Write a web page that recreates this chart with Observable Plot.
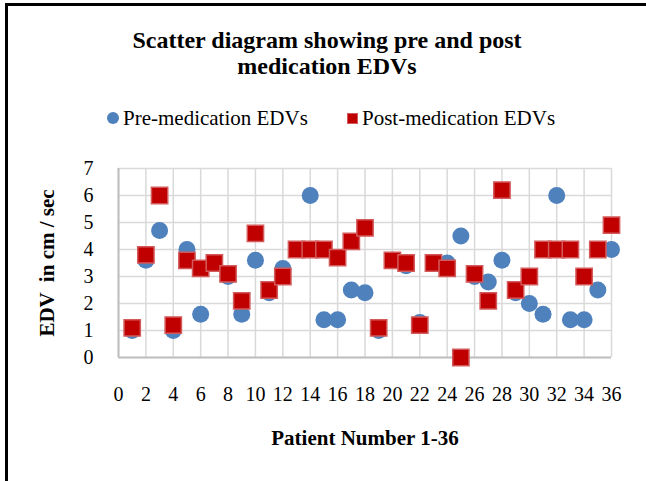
<!DOCTYPE html>
<html>
<head>
<meta charset="utf-8">
<script src="https://cdn.jsdelivr.net/npm/d3@7"></script>
<script src="https://cdn.jsdelivr.net/npm/@observablehq/plot@0.6"></script>
<style>
  html, body { margin: 0; padding: 0; background: #fff; }
  #wrap { position: relative; width: 646px; height: 481px; overflow: hidden; font-family: "Liberation Serif", "Times New Roman", serif; color: #000; }
  #frameTop { position: absolute; left: 5px; top: 3px; width: 641px; height: 2.5px; background: #000; }
  #frameLeft { position: absolute; left: 5px; top: 3px; width: 3px; height: 478px; background: #000; }
  #title { position: absolute; left: 8px; width: 638px; top: 27px; text-align: center; font-weight: bold; font-size: 24px; line-height: 26px; }
  .leg { position: absolute; top: 106px; font-size: 21px; line-height: 24px; white-space: nowrap; }
  #chart { position: absolute; left: 0; top: 0; }
  #chart svg text { font-family: "Liberation Serif", "Times New Roman", serif; }
</style>
</head>
<body>
<div id="wrap">
  <div id="chart"></div>
  <div id="title">Scatter diagram showing pre and post<br>medication EDVs</div>
  <div id="legend"></div>
  <div id="frameTop"></div>
  <div id="frameLeft"></div>
</div>
<script>
const patients = [1,2,3,4,5,6,7,8,9,10,11,12,13,14,15,16,17,18,19,20,21,22,23,24,25,26,27,28,29,30,31,32,33,34,35,36];
const preMedication = [1.0,3.6,4.7,1.0,4.0,1.6,3.5,3.0,1.6,3.6,2.4,3.3,4.0,6.0,1.4,1.4,2.5,2.4,1.0,3.6,3.4,1.3,3.5,3.5,4.5,3.0,2.8,3.6,2.4,2.0,1.6,6.0,1.4,1.4,2.5,4.0];
const postMedication = [1.1,3.8,6.0,1.2,3.6,3.3,3.5,3.1,2.1,4.6,2.5,3.0,4.0,4.0,4.0,3.7,4.3,4.8,1.1,3.6,3.5,1.2,3.5,3.3,0.0,3.1,2.1,6.2,2.5,3.0,4.0,4.0,4.0,3.0,4.0,4.9];
const xTicks = [0,2,4,6,8,10,12,14,16,18,20,22,24,26,28,30,32,34,36];
const yTicks = [0,1,2,3,4,5,6,7];
const seriesNames = ["Pre-medication EDVs", "Post-medication EDVs"];
const seriesColors = ["#4f81bd", "#c00000"];
const xTitle = "Patient Number 1-36";
const yTitle = "EDV  in cm / sec";

const data = patients.map((p, i) => ({patient: p, pre: preMedication[i], post: postMedication[i]}));
const font = '"Liberation Serif", "Times New Roman", serif';

const chart = Plot.plot({
  width: 646,
  height: 481,
  marginLeft: 118,
  marginRight: 35,
  marginTop: 168,
  marginBottom: 124,
  x: {domain: [0, 36]},
  y: {domain: [0, 7]},
  style: {fontFamily: font, fontSize: "20px", color: "#000", background: "transparent", overflow: "visible"},
  marks: [
    Plot.gridX(xTicks, {stroke: "#d9d9d9", strokeOpacity: 1, strokeWidth: 1.5}),
    Plot.gridY(yTicks, {stroke: "#d9d9d9", strokeOpacity: 1, strokeWidth: 1.5}),
    Plot.ruleX([0], {stroke: "#bfbfbf", strokeWidth: 2}),
    Plot.ruleY([0], {stroke: "#bfbfbf", strokeWidth: 2}),
    Plot.axisX(xTicks, {tickSize: 0, tickPadding: 29, label: null, fontSize: 20, fontFamily: font, fill: "#000"}),
    Plot.axisY(yTicks, {tickSize: 0, tickPadding: 25, label: null, fontSize: 20, fontFamily: font, fill: "#000"}),
    Plot.text([yTitle], {frameAnchor: "left", dx: -71, rotate: -90, fontWeight: "bold", fontSize: 21, fontFamily: font, textAnchor: "middle", lineAnchor: "middle", fill: "#000"}),
    Plot.text([xTitle], {frameAnchor: "bottom", dy: 81, fontWeight: "bold", fontSize: 21, fontFamily: font, textAnchor: "middle", lineAnchor: "middle", fill: "#000"}),
    Plot.dot(data, {x: "patient", y: "pre", r: 8.5, fill: seriesColors[0], stroke: "none"}),
    Plot.dot(data, {x: "patient", y: "post", symbol: "square", r: 9.2, fill: seriesColors[1], stroke: "#d35a5a", strokeWidth: 1.5})
  ]
});
document.getElementById("chart").appendChild(chart);

// legend
const legend = document.getElementById("legend");
const legendItems = [
  {name: seriesNames[0], color: seriesColors[0], shape: "circle", symX: 113, textX: 123},
  {name: seriesNames[1], color: seriesColors[1], shape: "square", symX: 352, textX: 362}
];
for (const it of legendItems) {
  const sym = document.createElement("div");
  sym.style.position = "absolute";
  sym.style.width = it.shape === "circle" ? "12px" : "11px";
  sym.style.height = it.shape === "circle" ? "12px" : "11px";
  sym.style.left = (it.symX - (it.shape === "circle" ? 6 : 5.5)) + "px";
  sym.style.top = (118 - (it.shape === "circle" ? 6 : 5.5)) + "px";
  sym.style.background = it.color;
  if (it.shape === "circle") sym.style.borderRadius = "50%";
  else { sym.style.boxSizing = "border-box"; sym.style.border = "1px solid #d35a5a"; }
  legend.appendChild(sym);
  const t = document.createElement("div");
  t.className = "leg";
  t.style.left = it.textX + "px";
  t.textContent = it.name;
  legend.appendChild(t);
}
</script>
</body>
</html>
